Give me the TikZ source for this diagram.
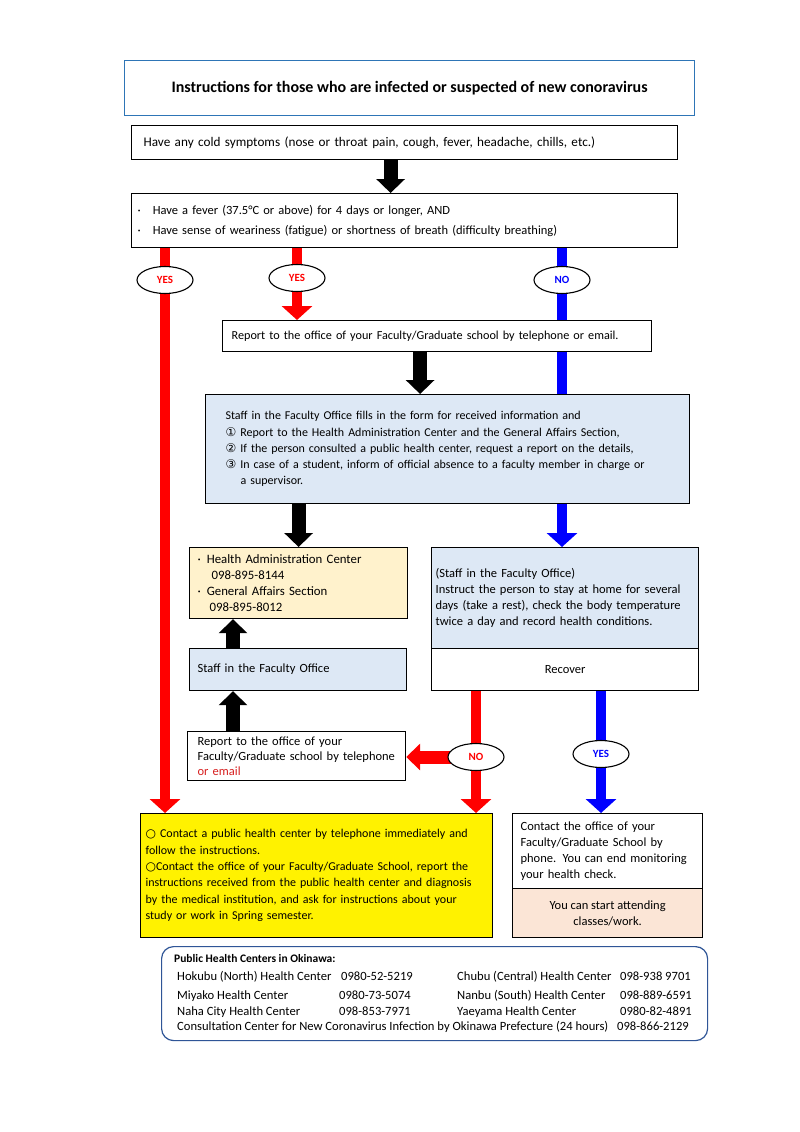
\documentclass[tikz,border=0pt]{standalone}
\usepackage{fontspec}
\setmainfont{Carlito}
\newfontfamily\symfont{DejaVu Sans}
\usetikzlibrary{arrows.meta,positioning,shapes.geometric,backgrounds}

\definecolor{titleblue}{RGB}{46,117,182}
\definecolor{phcblue}{RGB}{47,85,151}
\definecolor{paleblue}{RGB}{221,232,245}
\definecolor{paleorange}{RGB}{255,242,204}
\definecolor{palepink}{RGB}{251,229,214}
\definecolor{mailred}{RGB}{215,30,30}

\newcommand{\bodyfont}{\fontsize{12.5pt}{16pt}\selectfont}
\newcommand{\smallbody}{\fontsize{12pt}{16.3pt}\selectfont}

\tikzset{
    box/.style={draw, line width=1.2pt, anchor=north west, inner ysep=0pt, align=left, font=\bodyfont},
    answer/.style={ellipse, draw, line width=1.1pt, fill=white, minimum width=56pt, minimum height=27pt, inner sep=0pt, font=\bfseries\fontsize{11pt}{13pt}\selectfont},
    blkarrow/.style={black, line width=14pt, -{Triangle[length=14pt,width=28pt]}},
    redarrow/.style={red, line width=10pt, -{Triangle[length=14pt,width=30pt]}},
    bluearrow/.style={blue, line width=10pt, -{Triangle[length=14pt,width=30pt]}},
    listtext/.style={anchor=base west, inner sep=0pt, font=\fontsize{12.6pt}{14pt}\selectfont}
}

\begin{document}
\begin{tikzpicture}[x=1pt,y=-1pt]
    \useasboundingbox (0,0) rectangle (800,1132);

    % Title
    \node[box, draw=titleblue, minimum width=570pt, minimum height=55pt, align=center,
          font=\bfseries\fontsize{16pt}{18pt}\selectfont] (title) at (124,60)
          {Instructions for those who are infected or suspected of new conoravirus};

    % First checks
    \node[box, minimum height=34pt, text width=522pt, inner xsep=12pt, font=\fontsize{13.2pt}{16pt}\selectfont] (cold) at (131,125)
          {Have any cold symptoms (nose or throat pain, cough, fever, headache, chills, etc.)};
    \node[box, minimum height=54pt, text width=534pt, inner xsep=6pt] (fever) at (131,193)
          {·\hspace{12pt}Have a fever (37.5°C or above) for 4 days or longer, AND\\[4pt]
           ·\hspace{12pt}Have sense of weariness (fatigue) or shortness of breath (difficulty breathing)};

    % Report and faculty office
    \node[box, fill=white, minimum height=31pt, text width=411pt, inner xsep=9pt, font=\fontsize{12.2pt}{16pt}\selectfont] (report) at (222,320)
          {Report to the office of your Faculty/Graduate school by telephone or email.};
    \node[box, fill=paleblue, minimum height=109pt, text width=444pt, inner xsep=20pt, font=\smallbody] (form) at (205,394)
          {Staff in the Faculty Office fills in the form for received information and\\
           {\symfont ①} Report to the Health Administration Center and the General Affairs Section,\\
           {\symfont ②} If the person consulted a public health center, request a report on the details,\\
           {\symfont ③} In case of a student, inform of official absence to a faculty member in charge or\\
           \hspace{15pt}a supervisor.};

    % Left column
    \node[box, fill=paleorange, minimum height=71pt, text width=202pt, inner xsep=8pt, font=\fontsize{12.8pt}{16pt}\selectfont] (hac) at (189,547)
          {·\hspace{6pt}Health Administration Center\\
           \hspace{14pt}098-895-8144\\
           ·\hspace{6pt}General Affairs Section\\
           \hspace{12pt}098-895-8012};
    \node[box, fill=paleblue, minimum height=42pt, text width=201pt, inner xsep=8pt] (staff) at (189,648)
          {Staff in the Faculty Office};
    \node[box, fill=white, minimum height=49pt, text width=198pt, inner xsep=10pt, font=\fontsize{12.5pt}{15pt}\selectfont] (phone) at (187,731)
          {Report to the office of your\\
           Faculty/Graduate school by telephone\\
           \textcolor{mailred}{or email}};

    % Right column
    \node[box, fill=paleblue, minimum height=101pt, text width=259pt, inner xsep=4pt] (home) at (431,547)
          {(Staff in the Faculty Office)\\
           Instruct the person to stay at home for several\\
           days (take a rest), check the body temperature\\
           twice a day and record health conditions.};
    \node[box, fill=white, minimum width=267pt, minimum height=42pt, align=center] (recover) at (431,648)
          {Recover};

    % Outcomes
    \node[box, fill=yellow, minimum height=124pt, text width=342pt, inner xsep=5pt, font=\smallbody] (action) at (140,813)
          {{\symfont ○} Contact a public health center by telephone immediately and\\
           follow the instructions.\\
           {\symfont ○}Contact the office of your Faculty/Graduate School, report the\\
           instructions received from the public health center and diagnosis\\
           by the medical institution, and ask for instructions about your\\
           study or work in Spring semester.};
    \node[box, minimum height=75pt, text width=174pt, inner xsep=8pt] (contact) at (512,813)
          {Contact the office of your\\
           Faculty/Graduate School by\\
           phone. You can end monitoring\\
           your health check.};
    \node[box, fill=palepink, minimum width=190pt, minimum height=49pt, align=center] (attend) at (512,888)
          {You can start attending\\ classes/work.};

    % Public health centers
    \node[box, draw=phcblue, rounded corners=12pt, minimum width=546pt, minimum height=94pt] (phc) at (161,946) {};
    \node[listtext, font=\bfseries\fontsize{11.5pt}{14pt}\selectfont] (phchead) at (174,962) {Public Health Centers in Okinawa:};
    \node[listtext] (hokubu) at (177,980) {Hokubu (North) Health Center};
    \node[listtext] (hokubutel) at (341,980) {0980-52-5219};
    \node[listtext] (chubu) at (457,980) {Chubu (Central) Health Center};
    \node[listtext] (chubutel) at (620,980) {098-938 9701};
    \node[listtext] (miyako) at (177,999) {Miyako Health Center};
    \node[listtext] (miyakotel) at (339,999) {0980-73-5074};
    \node[listtext] (nanbu) at (457,999) {Nanbu (South) Health Center};
    \node[listtext] (nanbutel) at (620,999) {098-889-6591};
    \node[listtext] (naha) at (177,1015) {Naha City Health Center};
    \node[listtext] (nahatel) at (339,1015) {098-853-7971};
    \node[listtext] (yaeyama) at (457,1015) {Yaeyama Health Center};
    \node[listtext] (yaeyamatel) at (620,1015) {0980-82-4891};
    \node[listtext] (consult) at (177,1030) {Consultation Center for New Coronavirus Infection by Okinawa Prefecture (24 hours)};
    \node[listtext] (consulttel) at (617,1030) {098-866-2129};

    % Answers
    \node[answer, text=red] (yesA) at (165,280) {YES};
    \node[answer, text=red] (yesB) at (297,278) {YES};
    \node[answer, text=blue] (noA) at (562,280) {NO};
    \node[answer, text=red] (noB) at (476,757) {NO};
    \node[answer, text=blue] (yesC) at (601,754) {YES};
    \coordinate (upcol) at (233,0);

    % Arrows
    \begin{scope}[on background layer]
        \fill[white] (0,0) rectangle (800,1132);
        \draw[blkarrow] ([xshift=-14pt]cold.south) -- ([xshift=-14pt]cold.south |- fever.north);
        \draw[redarrow] (fever.south -| yesA) -- (action.north -| yesA);
        \draw[redarrow] (fever.south -| yesB) -- (report.north -| yesB);
        \draw[bluearrow] (fever.south -| noA) -- (home.north -| noA);
        \draw[blkarrow] ([xshift=-17pt]report.south) -- ([xshift=-17pt]report.south |- form.north);
        \draw[blkarrow] (form.south -| hac) -- (hac.north);
        \draw[blkarrow] (staff.north -| upcol) -- (hac.south -| upcol);
        \draw[blkarrow] (phone.north -| upcol) -- (staff.south -| upcol);
        \draw[redarrow] (recover.south -| noB) -- (action.north -| noB);
        \draw[redarrow, line width=13pt, -{Triangle[length=14pt,width=26pt]}] (noB.center) -- (phone.east |- noB.center);
        \draw[bluearrow] (recover.south -| yesC) -- (contact.north -| yesC);
    \end{scope}
\end{tikzpicture}
\end{document}
